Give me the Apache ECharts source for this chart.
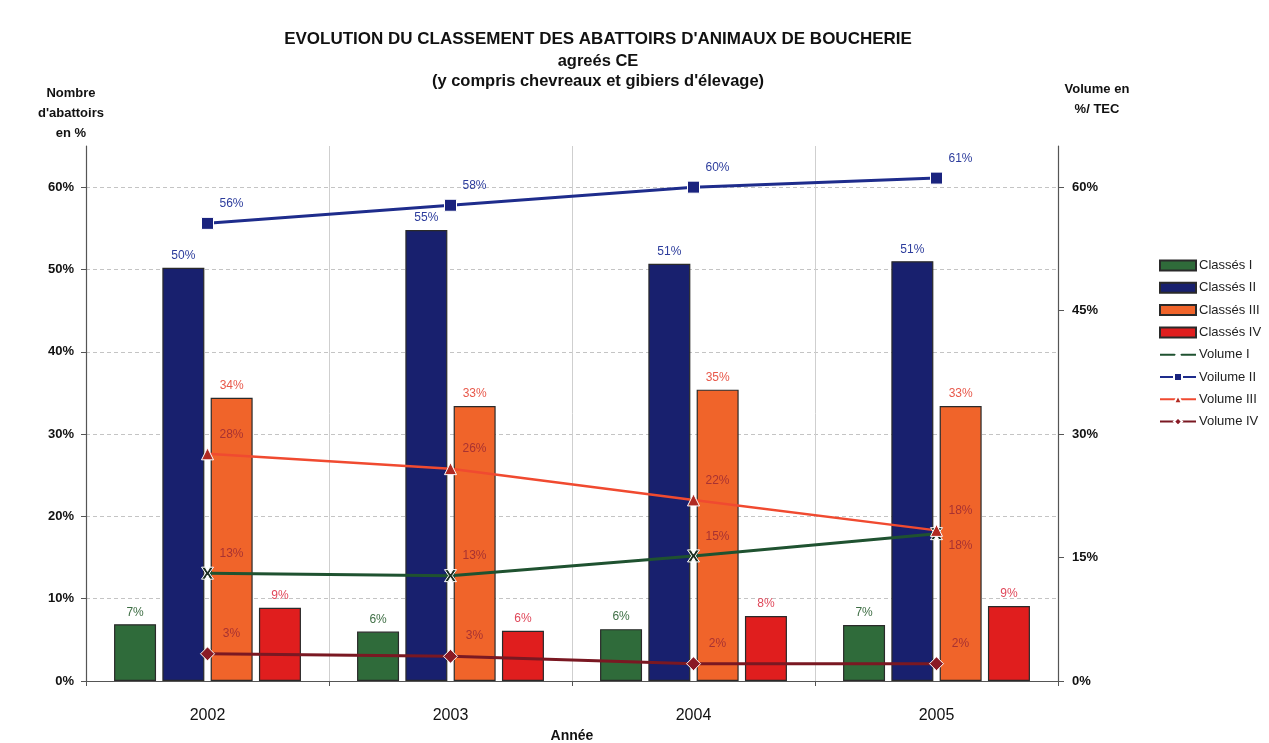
<!DOCTYPE html>
<html>
<head>
<meta charset="utf-8">
<script src="https://cdn.jsdelivr.net/npm/echarts@6/dist/echarts.min.js"></script>
<style>
  html, body { margin: 0; padding: 0; background: #fff; }
  #main { width: 1269px; height: 743px; }
</style>
</head>
<body>
<div id="main"></div>
<script>
// data
var years = ['2002', '2003', '2004', '2005'];
var classes1 = [6.9, 6.0, 6.3, 6.8];
var classes2 = [50.2, 54.8, 50.7, 51.0];
var classes3 = [34.4, 33.4, 35.4, 33.4];
var classes4 = [8.9, 6.1, 7.9, 9.1];
var volume1 = [13.1, 12.8, 15.2, 17.9];
var volume2 = [55.6, 57.8, 60.0, 61.1];
var volume3 = [27.6, 25.8, 22.0, 18.3];
var volume4 = [3.3, 3.0, 2.1, 2.1];
var leftTicks = [0, 10, 20, 30, 40, 50, 60];
var rightTicks = [0, 15, 30, 45, 60];

var font = 'Liberation Sans, Arial, sans-serif';
var pct = function (p) { return Math.round(p.value) + '%'; };

function barSeries(name, data, color, labelColor) {
  return {
    name: name,
    type: 'bar',
    data: data,
    barWidth: 42,
    barGap: '15%',
    itemStyle: { color: color, borderColor: '#2a2a2a', borderWidth: 1.2 },
    label: {
      show: true, position: 'top', distance: 6,
      color: labelColor, fontFamily: font, fontSize: 12,
      formatter: pct
    },
    z: 2
  };
}

function lineSeries(name, data, color, symbol, symbolSize, markColor, labelColor, width) {
  return {
    name: name,
    type: 'line',
    yAxisIndex: 1,
    data: data,
    symbol: symbol,
    symbolSize: symbolSize,
    lineStyle: { color: color, width: width },
    itemStyle: { color: markColor, borderColor: '#ffffff', borderWidth: 1 },
    label: {
      show: true, position: 'top', offset: [24, -2],
      color: labelColor, fontFamily: font, fontSize: 12,
      formatter: pct
    },
    z: 5
  };
}

var vol1 = lineSeries('Volume I', volume1, '#1f5230', 'path://M0,0L3,0L5,3.5L7,0L10,0L6.5,5L10,10L7,10L5,6.5L3,10L0,10L3.5,5Z', 12, '#1c2e22', '#a83232', 3);
// last point of Volume I has its label below the marker
vol1.data = volume1.map(function (v, i) {
  return i === 3 ? { value: v, label: { offset: [24, 30] } } : v;
});

var barNames = ['Classés I', 'Classés II', 'Classés III', 'Classés IV'];
var lineNames = ['Volume I', 'Voilume II', 'Volume III', 'Volume IV'];

var myChart = echarts.init(document.getElementById('main'));
var option = {
  backgroundColor: '#ffffff',
  title: [{
    text: "EVOLUTION DU CLASSEMENT DES ABATTOIRS D'ANIMAUX DE BOUCHERIE",
    subtext: "agreés CE\n(y compris chevreaux et gibiers d'élevage)",
    left: 593, top: 24, textAlign: 'center', itemGap: 2,
    textStyle: { fontFamily: font, fontSize: 17, fontWeight: 'bold', color: '#111', lineHeight: 20 },
    subtextStyle: { fontFamily: font, fontSize: 16.5, fontWeight: 'bold', color: '#111', lineHeight: 20 }
  }, {
    text: "Nombre\nd'abattoirs\nen %",
    left: 66, top: 78, textAlign: 'center',
    textStyle: { fontFamily: font, fontSize: 13, fontWeight: 'bold', color: '#111', lineHeight: 20 }
  }, {
    text: 'Volume en\n%/ TEC',
    left: 1092, top: 74, textAlign: 'center',
    textStyle: { fontFamily: font, fontSize: 13, fontWeight: 'bold', color: '#111', lineHeight: 20 }
  }],
  legend: {
    orient: 'vertical',
    left: 1154, top: 254,
    itemWidth: 36, itemHeight: 10, itemGap: 9.3,
    textStyle: { fontFamily: font, fontSize: 13, color: '#222', padding: [0, 0, 0, -2] },
    data: barNames.map(function (n) { return { name: n, icon: 'rect' }; }).concat(lineNames)
  },
  grid: { left: 86, right: 211, top: 146, bottom: 62, outerBoundsMode: 'none' },
  xAxis: {
    type: 'category',
    data: years,
    name: 'Année',
    nameLocation: 'middle',
    nameGap: 47,
    nameTextStyle: { fontFamily: font, fontSize: 14, fontWeight: 'bold', color: '#111' },
    axisLine: { lineStyle: { color: '#555', width: 1.2 } },
    axisTick: { show: true, length: 5, lineStyle: { color: '#555' } },
    axisLabel: { margin: 27, fontFamily: font, fontSize: 16, color: '#111' },
    splitLine: { show: true, lineStyle: { color: '#cfcfcf', width: 1 } }
  },
  yAxis: [{
    type: 'value',
    min: leftTicks[0], max: 65, interval: leftTicks[1] - leftTicks[0],
    axisLine: { show: true, lineStyle: { color: '#555', width: 1.2 } },
    axisTick: { show: true, length: 5, lineStyle: { color: '#555' } },
    axisLabel: { showMaxLabel: false, margin: 12, fontFamily: font, fontSize: 13, fontWeight: 'bold', color: '#111', formatter: '{value}%' },
    splitLine: { show: true, showMaxLine: false, lineStyle: { color: '#c4c4c4', type: [4, 3] } }
  }, {
    type: 'value',
    min: rightTicks[0], max: 65, interval: rightTicks[1] - rightTicks[0],
    position: 'right',
    axisLine: { show: true, lineStyle: { color: '#555', width: 1.2 } },
    axisTick: { show: true, length: 6, lineStyle: { color: '#555' } },
    axisLabel: { showMaxLabel: false, margin: 14, fontFamily: font, fontSize: 13, fontWeight: 'bold', color: '#111', formatter: '{value}%' },
    splitLine: { show: false }
  }],
  series: [
    barSeries('Classés I', classes1, '#2f6b3a', '#3e6e44'),
    barSeries('Classés II', classes2, '#18206e', '#2c3c9c'),
    barSeries('Classés III', classes3, '#f0642a', '#e8584a'),
    barSeries('Classés IV', classes4, '#e01e1e', '#e0485a'),
    vol1,
    lineSeries('Voilume II', volume2, '#1e2c8c', 'rect', 12, '#1a237e', '#2c3c9c', 3),
    lineSeries('Volume III', volume3, '#f04a30', 'triangle', 12, '#b02a22', '#a83232', 2.5),
    lineSeries('Volume IV', volume4, '#7a1822', 'diamond', 14, '#8a1a25', '#a83232', 3)
  ]
};
myChart.setOption(option);
</script>
</body>
</html>
